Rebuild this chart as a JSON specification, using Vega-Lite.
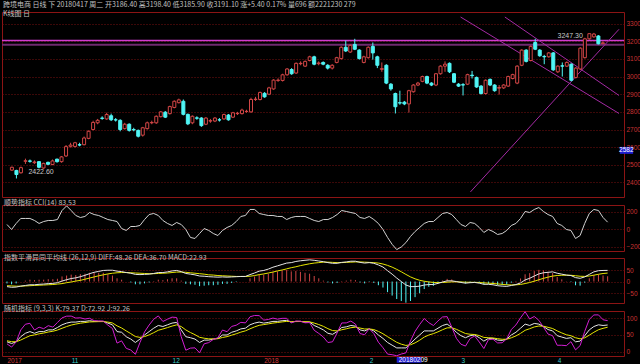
{
"$schema": "https://vega.github.io/schema/vega-lite/v6.json",
"background": "#000000",
"padding": 0,
"spacing": 0,
"config": {
 "view": {"stroke": "#8c1414", "strokeWidth": 1},
 "axis": {"domain": false, "ticks": false, "labelFont": "Liberation Sans", "labelFontSize": 6.5, "labelColor": "#c83232", "gridColor": "#781010", "gridDash": [1, 2], "gridWidth": 1, "format": "d", "labelPadding": 2},
 "title": {"font": "Noto Sans CJK SC", "fontSize": 7, "fontWeight": "normal", "color": "#c0c0c0", "anchor": "start", "subtitleFont": "Noto Sans CJK SC", "subtitleFontSize": 7, "subtitleColor": "#c0c0c0"},
 "text": {"font": "Liberation Sans", "fontSize": 7}
},
"datasets": {
 "hl": [{"p": 3204}, {"p": 3180}],
 "tl": [
  {"id": "up", "i": 101.64, "p": 2346.5}, {"id": "up", "i": 134.57, "p": 3268},
  {"id": "dn1", "i": 99.45, "p": 3337.5}, {"id": "dn1", "i": 134.57, "p": 2791},
  {"id": "dn2", "i": 109.27, "p": 3337.5}, {"id": "dn2", "i": 134.57, "p": 2893}
 ],
 "k": [
{"i":0,"d":"2017-10-12","o":2470,"h":2490,"l":2465,"c":2486,"cci":57,"dif":-22,"dea":-18,"m":-8,"k":30,"dd":33,"j":24},
{"i":1,"d":"2017-10-13","o":2468,"h":2472,"l":2422.6,"c":2445,"cci":0,"dif":-25,"dea":-19,"m":-12,"k":25,"dd":30.3,"j":14.4},
{"i":2,"d":"2017-10-16","o":2455,"h":2490,"l":2450,"c":2484,"cci":69,"dif":-24,"dea":-20,"m":-8,"k":30,"dd":30.2,"j":29.6},
{"i":3,"d":"2017-10-17","o":2520,"h":2535,"l":2505,"c":2523,"cci":126,"dif":-20,"dea":-20,"m":0,"k":45,"dd":35.1,"j":64.8},
{"i":4,"d":"2017-10-18","o":2522,"h":2530,"l":2512,"c":2520,"cci":126,"dif":-17,"dea":-19,"m":4,"k":55,"dd":41.7,"j":81.6},
{"i":5,"d":"2017-10-19","o":2512,"h":2525,"l":2505,"c":2516,"cci":126,"dif":-14,"dea":-18,"m":8,"k":60,"dd":47.8,"j":84.4},
{"i":6,"d":"2017-10-20","o":2518,"h":2520,"l":2480,"c":2486,"cci":103,"dif":-14,"dea":-17,"m":6,"k":55,"dd":50.2,"j":64.6},
{"i":7,"d":"2017-10-23","o":2482,"h":2512,"l":2478,"c":2508,"cci":69,"dif":-12,"dea":-16,"m":8,"k":60,"dd":53.5,"j":73},
{"i":8,"d":"2017-10-24","o":2514,"h":2518,"l":2498,"c":2503,"cci":91,"dif":-11,"dea":-15,"m":8,"k":60,"dd":55.7,"j":68.6},
{"i":9,"d":"2017-10-25","o":2502,"h":2530,"l":2498,"c":2522,"cci":103,"dif":-9,"dea":-14,"m":10,"k":65,"dd":58.8,"j":77.4},
{"i":10,"d":"2017-10-26","o":2532,"h":2535,"l":2512,"c":2518,"cci":103,"dif":-8,"dea":-13,"m":10,"k":65,"dd":60.9,"j":73.2},
{"i":11,"d":"2017-10-27","o":2518,"h":2550,"l":2512,"c":2545,"cci":114,"dif":-5,"dea":-11,"m":12,"k":72,"dd":64.6,"j":86.8},
{"i":12,"d":"2017-10-30","o":2550,"h":2612,"l":2545,"c":2603,"cci":217,"dif":2,"dea":-9,"m":22,"k":80,"dd":69.8,"j":100.4},
{"i":13,"d":"2017-10-31","o":2605,"h":2625,"l":2598,"c":2612,"cci":270,"dif":8,"dea":-5,"m":26,"k":85,"dd":74.8,"j":105.4},
{"i":14,"d":"2017-11-01","o":2604,"h":2630,"l":2598,"c":2625,"cci":217,"dif":13,"dea":-2,"m":30,"k":88,"dd":79.2,"j":105.6},
{"i":15,"d":"2017-11-02","o":2614,"h":2625,"l":2605,"c":2612,"cci":160,"dif":16,"dea":2,"m":28,"k":88,"dd":82.1,"j":99.8},
{"i":16,"d":"2017-11-03","o":2614,"h":2660,"l":2610,"c":2652,"cci":137,"dif":21,"dea":5,"m":32,"k":90,"dd":84.7,"j":100.6},
{"i":17,"d":"2017-11-06","o":2650,"h":2695,"l":2645,"c":2690,"cci":149,"dif":27,"dea":10,"m":34,"k":90,"dd":86.5,"j":97},
{"i":18,"d":"2017-11-07","o":2700,"h":2750,"l":2695,"c":2740,"cci":194,"dif":34,"dea":15,"m":38,"k":92,"dd":88.4,"j":99.2},
{"i":19,"d":"2017-11-08","o":2738,"h":2760,"l":2730,"c":2752,"cci":171,"dif":40,"dea":20,"m":40,"k":90,"dd":88.9,"j":92.2},
{"i":20,"d":"2017-11-09","o":2765,"h":2775,"l":2755,"c":2763,"cci":160,"dif":44,"dea":25,"m":38,"k":90,"dd":89.3,"j":91.4},
{"i":21,"d":"2017-11-10","o":2760,"h":2795,"l":2755,"c":2785,"cci":137,"dif":48,"dea":29,"m":38,"k":90,"dd":89.5,"j":91},
{"i":22,"d":"2017-11-13","o":2778,"h":2790,"l":2748,"c":2755,"cci":114,"dif":49,"dea":33,"m":32,"k":85,"dd":88,"j":79},
{"i":23,"d":"2017-11-14","o":2755,"h":2765,"l":2745,"c":2754,"cci":103,"dif":49,"dea":36,"m":26,"k":80,"dd":85.4,"j":69.2},
{"i":24,"d":"2017-11-15","o":2752,"h":2758,"l":2690,"c":2700,"cci":91,"dif":45,"dea":38,"m":14,"k":60,"dd":76.9,"j":26.2},
{"i":25,"d":"2017-11-16","o":2705,"h":2738,"l":2700,"c":2730,"cci":11,"dif":43,"dea":39,"m":8,"k":58,"dd":70.6,"j":32.8},
{"i":26,"d":"2017-11-17","o":2730,"h":2735,"l":2688,"c":2695,"cci":-11,"dif":39,"dea":39,"m":0,"k":45,"dd":62.1,"j":10.8},
{"i":27,"d":"2017-11-20","o":2700,"h":2710,"l":2690,"c":2698,"cci":34,"dif":36,"dea":38,"m":-4,"k":38,"dd":54.1,"j":5.8},
{"i":28,"d":"2017-11-21","o":2695,"h":2700,"l":2655,"c":2662,"cci":34,"dif":31,"dea":37,"m":-12,"k":28,"dd":45.4,"j":-6.8},
{"i":29,"d":"2017-11-22","o":2668,"h":2715,"l":2660,"c":2710,"cci":46,"dif":30,"dea":36,"m":-12,"k":38,"dd":43,"j":28},
{"i":30,"d":"2017-11-23","o":2705,"h":2745,"l":2700,"c":2738,"cci":114,"dif":31,"dea":35,"m":-8,"k":50,"dd":45.4,"j":59.2},
{"i":31,"d":"2017-11-24","o":2738,"h":2750,"l":2730,"c":2740,"cci":171,"dif":32,"dea":34,"m":-4,"k":60,"dd":50.3,"j":79.4},
{"i":32,"d":"2017-11-27","o":2738,"h":2780,"l":2732,"c":2775,"cci":183,"dif":35,"dea":34,"m":2,"k":70,"dd":56.8,"j":96.4},
{"i":33,"d":"2017-11-28","o":2773,"h":2805,"l":2768,"c":2800,"cci":160,"dif":39,"dea":35,"m":8,"k":78,"dd":63.9,"j":106.2},
{"i":34,"d":"2017-11-29","o":2798,"h":2805,"l":2765,"c":2770,"cci":103,"dif":39,"dea":36,"m":6,"k":75,"dd":67.6,"j":89.8},
{"i":35,"d":"2017-11-30","o":2790,"h":2835,"l":2785,"c":2830,"cci":69,"dif":42,"dea":37,"m":10,"k":80,"dd":71.8,"j":96.4},
{"i":36,"d":"2017-12-01","o":2825,"h":2865,"l":2820,"c":2860,"cci":46,"dif":46,"dea":39,"m":14,"k":85,"dd":76.2,"j":102.6},
{"i":37,"d":"2017-12-04","o":2852,"h":2875,"l":2848,"c":2868,"cci":80,"dif":48,"dea":41,"m":14,"k":87,"dd":79.8,"j":101.4},
{"i":38,"d":"2017-12-05","o":2860,"h":2870,"l":2780,"c":2786,"cci":57,"dif":43,"dea":41,"m":4,"k":65,"dd":74.9,"j":45.2},
{"i":39,"d":"2017-12-06","o":2786,"h":2790,"l":2725,"c":2732,"cci":0,"dif":35,"dea":40,"m":-10,"k":45,"dd":64.9,"j":5.2},
{"i":40,"d":"2017-12-07","o":2738,"h":2780,"l":2730,"c":2775,"cci":-91,"dif":32,"dea":38,"m":-12,"k":42,"dd":57.3,"j":11.4},
{"i":41,"d":"2017-12-08","o":2766,"h":2775,"l":2755,"c":2764,"cci":-103,"dif":29,"dea":36,"m":-14,"k":38,"dd":50.9,"j":12.2},
{"i":42,"d":"2017-12-11","o":2765,"h":2770,"l":2715,"c":2722,"cci":-46,"dif":24,"dea":34,"m":-20,"k":28,"dd":43.2,"j":-2.4},
{"i":43,"d":"2017-12-12","o":2730,"h":2770,"l":2725,"c":2765,"cci":11,"dif":23,"dea":32,"m":-18,"k":35,"dd":40.5,"j":24},
{"i":44,"d":"2017-12-13","o":2748,"h":2760,"l":2738,"c":2750,"cci":-11,"dif":21,"dea":29,"m":-16,"k":35,"dd":38.7,"j":27.6},
{"i":45,"d":"2017-12-14","o":2748,"h":2770,"l":2742,"c":2765,"cci":-46,"dif":20,"dea":28,"m":-16,"k":38,"dd":38.5,"j":37},
{"i":46,"d":"2017-12-15","o":2755,"h":2765,"l":2745,"c":2754,"cci":-69,"dif":19,"dea":26,"m":-14,"k":40,"dd":39,"j":42},
{"i":47,"d":"2017-12-18","o":2760,"h":2790,"l":2755,"c":2785,"cci":-11,"dif":20,"dea":25,"m":-10,"k":50,"dd":42.7,"j":64.6},
{"i":48,"d":"2017-12-19","o":2782,"h":2788,"l":2750,"c":2755,"cci":23,"dif":19,"dea":24,"m":-10,"k":50,"dd":45.2,"j":59.6},
{"i":49,"d":"2017-12-20","o":2770,"h":2800,"l":2765,"c":2795,"cci":46,"dif":20,"dea":23,"m":-6,"k":58,"dd":49.4,"j":75.2},
{"i":50,"d":"2017-12-21","o":2790,"h":2800,"l":2782,"c":2792,"cci":91,"dif":21,"dea":22,"m":-2,"k":62,"dd":53.6,"j":78.8},
{"i":51,"d":"2017-12-22","o":2790,"h":2818,"l":2785,"c":2810,"cci":149,"dif":22,"dea":22,"m":0,"k":68,"dd":58.4,"j":87.2},
{"i":52,"d":"2017-12-26","o":2802,"h":2812,"l":2795,"c":2803,"cci":160,"dif":22,"dea":22,"m":0,"k":70,"dd":62.2,"j":85.6},
{"i":53,"d":"2017-12-27","o":2800,"h":2880,"l":2795,"c":2870,"cci":229,"dif":30,"dea":23,"m":14,"k":80,"dd":68.2,"j":103.6},
{"i":54,"d":"2017-12-28","o":2870,"h":2885,"l":2862,"c":2872,"cci":229,"dif":37,"dea":26,"m":22,"k":85,"dd":73.8,"j":107.4},
{"i":55,"d":"2017-12-29","o":2870,"h":2915,"l":2865,"c":2910,"cci":183,"dif":45,"dea":30,"m":30,"k":88,"dd":78.5,"j":107},
{"i":56,"d":"2018-01-01","o":2905,"h":2912,"l":2880,"c":2885,"cci":171,"dif":48,"dea":33,"m":30,"k":85,"dd":80.6,"j":93.8},
{"i":57,"d":"2018-01-02","o":2900,"h":2942,"l":2895,"c":2936,"cci":160,"dif":54,"dea":37,"m":34,"k":87,"dd":82.7,"j":95.6},
{"i":58,"d":"2018-01-03","o":2930,"h":2985,"l":2925,"c":2980,"cci":160,"dif":62,"dea":41,"m":42,"k":90,"dd":85.1,"j":99.8},
{"i":59,"d":"2018-01-04","o":2978,"h":2990,"l":2970,"c":2980,"cci":149,"dif":68,"dea":46,"m":44,"k":90,"dd":86.7,"j":96.6},
{"i":60,"d":"2018-01-05","o":2978,"h":3016,"l":2972,"c":3010,"cci":149,"dif":74,"dea":50,"m":48,"k":92,"dd":88.5,"j":99},
{"i":61,"d":"2018-01-08","o":3010,"h":3048,"l":3005,"c":3043,"cci":114,"dif":80,"dea":55,"m":50,"k":93,"dd":90,"j":99},
{"i":62,"d":"2018-01-09","o":3040,"h":3048,"l":3010,"c":3016,"cci":137,"dif":82,"dea":60,"m":44,"k":88,"dd":89.3,"j":85.4},
{"i":63,"d":"2018-01-10","o":3020,"h":3080,"l":3015,"c":3075,"cci":149,"dif":87,"dea":64,"m":46,"k":90,"dd":89.5,"j":91},
{"i":64,"d":"2018-01-11","o":3073,"h":3086,"l":3064,"c":3075,"cci":149,"dif":90,"dea":69,"m":42,"k":90,"dd":89.7,"j":90.6},
{"i":65,"d":"2018-01-12","o":3059,"h":3091,"l":3054,"c":3086,"cci":149,"dif":92,"dea":73,"m":38,"k":88,"dd":89.1,"j":85.8},
{"i":66,"d":"2018-01-15","o":3091,"h":3118,"l":3086,"c":3112,"cci":126,"dif":94,"dea":77,"m":34,"k":88,"dd":88.7,"j":86.6},
{"i":67,"d":"2018-01-16","o":3112,"h":3118,"l":3064,"c":3070,"cci":103,"dif":92,"dea":80,"m":24,"k":78,"dd":85.1,"j":63.8},
{"i":68,"d":"2018-01-17","o":3073,"h":3086,"l":3064,"c":3077,"cci":91,"dif":89,"dea":82,"m":14,"k":72,"dd":80.7,"j":54.6},
{"i":69,"d":"2018-01-18","o":3080,"h":3086,"l":3064,"c":3070,"cci":114,"dif":86,"dea":84,"m":4,"k":65,"dd":75.5,"j":44},
{"i":70,"d":"2018-01-19","o":3064,"h":3070,"l":3040,"c":3048,"cci":114,"dif":82,"dea":84,"m":-4,"k":55,"dd":68.6,"j":27.8},
{"i":71,"d":"2018-01-22","o":3048,"h":3070,"l":3040,"c":3064,"cci":137,"dif":79,"dea":83,"m":-8,"k":52,"dd":63,"j":30},
{"i":72,"d":"2018-01-23","o":3080,"h":3112,"l":3075,"c":3107,"cci":171,"dif":79,"dea":82,"m":-6,"k":60,"dd":62,"j":56},
{"i":73,"d":"2018-01-24","o":3102,"h":3171,"l":3096,"c":3166,"cci":217,"dif":83,"dea":82,"m":2,"k":72,"dd":65.3,"j":85.4},
{"i":74,"d":"2018-01-25","o":3166,"h":3204,"l":3139,"c":3145,"cci":206,"dif":85,"dea":83,"m":4,"k":74,"dd":68.2,"j":85.6},
{"i":75,"d":"2018-01-26","o":3139,"h":3182,"l":3134,"c":3177,"cci":194,"dif":88,"dea":84,"m":8,"k":78,"dd":71.5,"j":91},
{"i":76,"d":"2018-01-29","o":3182,"h":3214,"l":3150,"c":3155,"cci":183,"dif":88,"dea":85,"m":6,"k":76,"dd":73,"j":82},
{"i":77,"d":"2018-01-30","o":3150,"h":3155,"l":3096,"c":3102,"cci":137,"dif":83,"dea":85,"m":-4,"k":65,"dd":70.4,"j":54.2},
{"i":78,"d":"2018-01-31","o":3080,"h":3118,"l":3075,"c":3112,"cci":126,"dif":80,"dea":84,"m":-8,"k":62,"dd":67.6,"j":50.8},
{"i":79,"d":"2018-02-01","o":3107,"h":3171,"l":3102,"c":3166,"cci":149,"dif":82,"dea":83,"m":-2,"k":68,"dd":67.8,"j":68.4},
{"i":80,"d":"2018-02-02","o":3171,"h":3193,"l":3096,"c":3134,"cci":114,"dif":79,"dea":82,"m":-6,"k":62,"dd":65.9,"j":54.2},
{"i":81,"d":"2018-02-05","o":3112,"h":3118,"l":3048,"c":3064,"cci":69,"dif":72,"dea":80,"m":-16,"k":50,"dd":60.6,"j":28.8},
{"i":82,"d":"2018-02-06","o":3041,"h":3080,"l":3027,"c":3045,"cci":0,"dif":63,"dea":76,"m":-26,"k":40,"dd":53.7,"j":12.6},
{"i":83,"d":"2018-02-07","o":3064,"h":3070,"l":2957,"c":2963,"cci":-91,"dif":47,"dea":70,"m":-46,"k":28,"dd":45.1,"j":-6.2},
{"i":84,"d":"2018-02-08","o":2957,"h":2963,"l":2920,"c":2930,"cci":-170,"dif":32,"dea":62.4,"m":-60.8,"k":20,"dd":36.8,"j":-8},
{"i":85,"d":"2018-02-09","o":2904,"h":2909,"l":2791,"c":2829,"cci":-230,"dif":15,"dea":52.9,"m":-75.8,"k":12,"dd":28.5,"j":-11},
{"i":86,"d":"2018-02-12","o":2852,"h":2920,"l":2840,"c":2850,"cci":-200,"dif":0,"dea":42.3,"m":-84.6,"k":12,"dd":23,"j":-6},
{"i":87,"d":"2018-02-13","o":2855,"h":2862,"l":2838,"c":2845,"cci":-150,"dif":-15,"dea":30.8,"m":-91.6,"k":12,"dd":19.3,"j":-2.6},
{"i":88,"d":"2018-02-14","o":2845,"h":2925,"l":2796,"c":2920,"cci":-80,"dif":-22,"dea":20.2,"m":-84.4,"k":25,"dd":21.2,"j":32.6},
{"i":89,"d":"2018-02-15","o":2914,"h":2957,"l":2909,"c":2952,"cci":-23,"dif":-22,"dea":11.8,"m":-67.6,"k":38,"dd":26.8,"j":60.4},
{"i":90,"d":"2018-02-16","o":2952,"h":2970,"l":2946,"c":2963,"cci":23,"dif":-20,"dea":5.4,"m":-50.8,"k":50,"dd":34.6,"j":80.8},
{"i":91,"d":"2018-02-19","o":2973,"h":3005,"l":2968,"c":3000,"cci":69,"dif":-15,"dea":1.3,"m":-32.6,"k":62,"dd":43.8,"j":98.4},
{"i":92,"d":"2018-02-20","o":3000,"h":3005,"l":2957,"c":2963,"cci":91,"dif":-13,"dea":-1.6,"m":-22.8,"k":62,"dd":49.9,"j":86.2},
{"i":93,"d":"2018-02-21","o":2963,"h":2968,"l":2946,"c":2952,"cci":91,"dif":-13,"dea":-3.9,"m":-18.2,"k":62,"dd":54,"j":78},
{"i":94,"d":"2018-02-22","o":2952,"h":3020,"l":2946,"c":3016,"cci":137,"dif":-8,"dea":-4.7,"m":-6.6,"k":70,"dd":59.3,"j":91.4},
{"i":95,"d":"2018-02-23","o":3016,"h":3064,"l":3011,"c":3059,"cci":183,"dif":-2,"dea":-4.2,"m":4.4,"k":78,"dd":65.5,"j":103},
{"i":96,"d":"2018-02-26","o":3059,"h":3086,"l":3027,"c":3070,"cci":194,"dif":3,"dea":-2.8,"m":11.6,"k":82,"dd":71,"j":104},
{"i":97,"d":"2018-02-27","o":3075,"h":3080,"l":3020,"c":3027,"cci":171,"dif":3,"dea":-1.6,"m":9.2,"k":72,"dd":71.3,"j":73.4},
{"i":98,"d":"2018-02-28","o":3016,"h":3020,"l":2963,"c":2968,"cci":114,"dif":0,"dea":-1.3,"m":2.6,"k":58,"dd":66.8,"j":40.4},
{"i":99,"d":"2018-03-01","o":2957,"h":2963,"l":2941,"c":2946,"cci":57,"dif":-4,"dea":-1.8,"m":-4.4,"k":48,"dd":60.5,"j":23},
{"i":100,"d":"2018-03-02","o":2954,"h":2963,"l":2893,"c":2952,"cci":34,"dif":-7,"dea":-2.8,"m":-8.4,"k":42,"dd":54.3,"j":17.4},
{"i":101,"d":"2018-03-05","o":2957,"h":3016,"l":2952,"c":3011,"cci":80,"dif":-5,"dea":-3.2,"m":-3.6,"k":48,"dd":52.2,"j":39.6},
{"i":102,"d":"2018-03-06","o":3008,"h":3032,"l":2989,"c":3005,"cci":69,"dif":-4,"dea":-3.4,"m":-1.2,"k":50,"dd":51.5,"j":47},
{"i":103,"d":"2018-03-07","o":2995,"h":3000,"l":2936,"c":2941,"cci":23,"dif":-7,"dea":-4.1,"m":-5.8,"k":42,"dd":48.3,"j":29.4},
{"i":104,"d":"2018-03-08","o":2946,"h":2952,"l":2898,"c":2904,"cci":-34,"dif":-12,"dea":-5.7,"m":-12.6,"k":32,"dd":42.9,"j":10.2},
{"i":105,"d":"2018-03-09","o":2904,"h":2984,"l":2898,"c":2979,"cci":0,"dif":-12,"dea":-7,"m":-10,"k":40,"dd":41.9,"j":36.2},
{"i":106,"d":"2018-03-12","o":2984,"h":2989,"l":2946,"c":2952,"cci":-23,"dif":-14,"dea":-8.4,"m":-11.2,"k":40,"dd":41.2,"j":37.6},
{"i":107,"d":"2018-03-13","o":2952,"h":2957,"l":2914,"c":2920,"cci":-57,"dif":-18,"dea":-10.3,"m":-15.4,"k":35,"dd":39.2,"j":26.6},
{"i":108,"d":"2018-03-14","o":2934,"h":2952,"l":2898,"c":2938,"cci":-46,"dif":-20,"dea":-12.2,"m":-15.6,"k":34,"dd":37.4,"j":27.2},
{"i":109,"d":"2018-03-15","o":2936,"h":2957,"l":2930,"c":2952,"cci":-11,"dif":-21,"dea":-14,"m":-14,"k":38,"dd":37.6,"j":38.8},
{"i":110,"d":"2018-03-16","o":2946,"h":3005,"l":2941,"c":3000,"cci":46,"dif":-17,"dea":-14.6,"m":-4.8,"k":50,"dd":41.8,"j":66.4},
{"i":111,"d":"2018-03-19","o":2989,"h":3016,"l":2984,"c":3011,"cci":69,"dif":-13,"dea":-14.3,"m":2.6,"k":58,"dd":47.2,"j":79.6},
{"i":112,"d":"2018-03-20","o":2963,"h":3064,"l":2957,"c":3059,"cci":126,"dif":-6,"dea":-12.6,"m":13.2,"k":70,"dd":54.8,"j":100.4},
{"i":113,"d":"2018-03-21","o":3064,"h":3155,"l":3059,"c":3150,"cci":206,"dif":7,"dea":-8.7,"m":31.4,"k":82,"dd":63.8,"j":118.4},
{"i":114,"d":"2018-03-22","o":3150,"h":3155,"l":3080,"c":3086,"cci":194,"dif":14,"dea":-4.2,"m":36.4,"k":78,"dd":68.5,"j":97},
{"i":115,"d":"2018-03-23","o":3091,"h":3177,"l":3086,"c":3171,"cci":229,"dif":24,"dea":1.4,"m":45.2,"k":84,"dd":73.7,"j":104.6},
{"i":116,"d":"2018-03-26","o":3193,"h":3214,"l":3150,"c":3155,"cci":251,"dif":33,"dea":7.7,"m":50.6,"k":82,"dd":76.4,"j":93.2},
{"i":117,"d":"2018-03-27","o":3150,"h":3155,"l":3112,"c":3118,"cci":206,"dif":38,"dea":13.8,"m":48.4,"k":75,"dd":75.9,"j":73.2},
{"i":118,"d":"2018-03-28","o":3114,"h":3123,"l":3070,"c":3112,"cci":171,"dif":40,"dea":19,"m":42,"k":66,"dd":72.6,"j":52.8},
{"i":119,"d":"2018-03-29","o":3112,"h":3139,"l":3107,"c":3134,"cci":149,"dif":42,"dea":23.6,"m":36.8,"k":62,"dd":69.1,"j":47.8},
{"i":120,"d":"2018-04-02","o":3134,"h":3139,"l":3032,"c":3038,"cci":69,"dif":36,"dea":26.1,"m":19.8,"k":48,"dd":62.1,"j":19.8},
{"i":121,"d":"2018-04-03","o":3027,"h":3064,"l":3020,"c":3059,"cci":46,"dif":32,"dea":27.3,"m":9.4,"k":44,"dd":56.1,"j":19.8},
{"i":122,"d":"2018-04-04","o":3061,"h":3080,"l":3000,"c":3059,"cci":0,"dif":28,"dea":27.4,"m":1.2,"k":40,"dd":50.7,"j":18.6},
{"i":123,"d":"2018-04-05","o":3059,"h":3086,"l":3054,"c":3080,"cci":-11,"dif":26,"dea":27.1,"m":-2.2,"k":42,"dd":47.8,"j":30.4},
{"i":124,"d":"2018-04-06","o":3070,"h":3075,"l":2973,"c":2979,"cci":-103,"dif":17,"dea":25.1,"m":-16.2,"k":30,"dd":41.9,"j":6.2},
{"i":125,"d":"2018-04-09","o":2995,"h":3054,"l":2989,"c":3048,"cci":-69,"dif":14,"dea":22.9,"m":-17.8,"k":32,"dd":38.6,"j":18.8},
{"i":126,"d":"2018-04-10","o":3043,"h":3166,"l":3038,"c":3161,"cci":69,"dif":20,"dea":22.3,"m":-4.6,"k":48,"dd":41.7,"j":60.6},
{"i":127,"d":"2018-04-11","o":3107,"h":3220,"l":3102,"c":3214,"cci":183,"dif":31,"dea":24,"m":14,"k":65,"dd":49.5,"j":96},
{"i":128,"d":"2018-04-12","o":3214,"h":3245,"l":3209,"c":3243,"cci":229,"dif":42,"dea":27.6,"m":28.8,"k":75,"dd":58,"j":109},
{"i":129,"d":"2018-04-13","o":3225,"h":3247.3,"l":3220,"c":3241,"cci":217,"dif":47,"dea":31.5,"m":31,"k":80,"dd":65.4,"j":109.2},
{"i":130,"d":"2018-04-16","o":3230,"h":3235,"l":3182,"c":3185.7,"cci":137,"dif":48,"dea":34.8,"m":26.4,"k":78,"dd":69.6,"j":94.8},
{"i":131,"d":"2018-04-17","o":3186.4,"h":3198.4,"l":3185.9,"c":3191.1,"cci":83.53,"dif":48.26,"dea":36.7,"m":22.93,"k":79.37,"dd":72.92,"j":92.26}
 ]
},
"vconcat": [
 {
  "width": 622, "height": 185,
  "title": {"text": "跨境电商 日线 下 20180417 周二 开3186.40 高3198.40 低3185.90 收3191.10 涨+5.40 0.17% 量696 额2221230 279", "subtitle": "K线图 日", "offset": -5, "subtitlePadding": 2, "dx": 2},
  "layer": [
   {"data": {"name": "hl"}, "mark": {"type": "rule"},
    "encoding": {
     "y": {"field": "p", "type": "quantitative", "scale": {"domain": [2346, 3337.5], "nice": false, "zero": false},
           "axis": {"orient": "right", "values": [2400, 2500, 2600, 2700, 2800, 2900, 3000, 3100, 3200, 3300], "grid": true, "title": null}},
     "color": {"condition": {"test": "datum.p > 3190", "value": "#d23cd2"}, "value": "#6e2a6e"},
     "strokeWidth": {"condition": {"test": "datum.p > 3190", "value": 1.5}, "value": 2}}},
   {"data": {"name": "tl"}, "mark": {"type": "line", "clip": true, "color": "#a42aa4", "strokeWidth": 1},
    "encoding": {
     "x": {"field": "i", "type": "quantitative", "scale": {"domain": [-1.09, 134.57], "nice": false, "zero": false}, "axis": null},
     "y": {"field": "p", "type": "quantitative", "scale": {"domain": [2346, 3337.5], "nice": false, "zero": false},
           "axis": {"orient": "right", "values": [2400, 2500, 2600, 2700, 2800, 2900, 3000, 3100, 3200, 3300], "grid": true, "title": null}},
     "detail": {"field": "id", "type": "nominal"}}},
   {"data": {"name": "k"}, "mark": {"type": "rule", "strokeWidth": 1},
    "encoding": {
     "x": {"field": "i", "type": "quantitative", "scale": {"domain": [-1.09, 134.57], "nice": false, "zero": false}, "axis": null},
     "y": {"field": "l", "type": "quantitative", "scale": {"domain": [2346, 3337.5], "nice": false, "zero": false},
           "axis": {"orient": "right", "values": [2400, 2500, 2600, 2700, 2800, 2900, 3000, 3100, 3200, 3300], "grid": true, "title": null}},
     "y2": {"field": "h"},
     "color": {"condition": {"test": "datum.c >= datum.o", "value": "#d24646"}, "value": "#50f5f5"}}},
   {"data": {"name": "k"}, "mark": {"type": "bar", "size": 3, "strokeWidth": 1},
    "encoding": {
     "x": {"field": "i", "type": "quantitative", "scale": {"domain": [-1.09, 134.57], "nice": false, "zero": false}, "axis": null},
     "y": {"field": "o", "type": "quantitative", "scale": {"domain": [2346, 3337.5], "nice": false, "zero": false},
           "axis": {"orient": "right", "values": [2400, 2500, 2600, 2700, 2800, 2900, 3000, 3100, 3200, 3300], "grid": true, "title": null}},
     "y2": {"field": "c"},
     "fill": {"condition": {"test": "datum.c >= datum.o", "value": "#000000"}, "value": "#50f5f5"},
     "stroke": {"condition": {"test": "datum.c >= datum.o", "value": "#d24646"}, "value": "#50f5f5"}}},
   {"data": {"values": [{"i": 1, "p": 2422.6, "t": "2422.60"}]},
    "mark": {"type": "text", "align": "left", "baseline": "middle", "dx": 12, "dy": -6, "color": "#c8c8c8"},
    "encoding": {
     "x": {"field": "i", "type": "quantitative", "scale": {"domain": [-1.09, 134.57], "nice": false, "zero": false}, "axis": null},
     "y": {"field": "p", "type": "quantitative", "scale": {"domain": [2346, 3337.5], "nice": false, "zero": false},
           "axis": {"orient": "right", "values": [2400, 2500, 2600, 2700, 2800, 2900, 3000, 3100, 3200, 3300], "grid": true, "title": null}},
     "text": {"field": "t"}}},
   {"data": {"values": [{"i": 129, "p": 3247.3, "t": "3247.30"}]},
    "mark": {"type": "text", "align": "right", "baseline": "middle", "dx": -11, "dy": 3, "color": "#c8c8c8"},
    "encoding": {
     "x": {"field": "i", "type": "quantitative", "scale": {"domain": [-1.09, 134.57], "nice": false, "zero": false}, "axis": null},
     "y": {"field": "p", "type": "quantitative", "scale": {"domain": [2346, 3337.5], "nice": false, "zero": false},
           "axis": {"orient": "right", "values": [2400, 2500, 2600, 2700, 2800, 2900, 3000, 3100, 3200, 3300], "grid": true, "title": null}},
     "text": {"field": "t"}}},
   {"data": {"values": [{"p": 2582, "t": "2582"}]},
    "mark": {"type": "bar", "size": 7, "color": "#1e1ed2"},
    "encoding": {
     "x": {"datum": 134.75, "type": "quantitative", "scale": {"domain": [-1.09, 134.57], "nice": false, "zero": false}, "axis": null},
     "x2": {"datum": 137.7},
     "y": {"field": "p", "type": "quantitative", "scale": {"domain": [2346, 3337.5], "nice": false, "zero": false},
           "axis": {"orient": "right", "values": [2400, 2500, 2600, 2700, 2800, 2900, 3000, 3100, 3200, 3300], "grid": true, "title": null}}}},
   {"data": {"values": [{"p": 2582, "t": "2582"}]},
    "mark": {"type": "text", "align": "center", "baseline": "middle", "color": "#ffffff", "fontSize": 6.5},
    "encoding": {
     "x": {"datum": 136.2, "type": "quantitative", "scale": {"domain": [-1.09, 134.57], "nice": false, "zero": false}, "axis": null},
     "y": {"field": "p", "type": "quantitative", "scale": {"domain": [2346, 3337.5], "nice": false, "zero": false},
           "axis": {"orient": "right", "values": [2400, 2500, 2600, 2700, 2800, 2900, 3000, 3100, 3200, 3300], "grid": true, "title": null}},
     "text": {"field": "t"}}}
  ]
 },
 {
  "width": 622, "height": 46,
  "title": {"text": "顺势指标 CCI(14) 83.53", "offset": -2, "dx": 2},
  "data": {"name": "k"},
  "mark": {"type": "line", "color": "#d2d2d2", "strokeWidth": 1},
  "encoding": {
   "x": {"field": "i", "type": "quantitative", "scale": {"domain": [-1.09, 134.57], "nice": false, "zero": false}, "axis": null},
   "y": {"field": "cci", "type": "quantitative", "scale": {"domain": [-246, 280], "nice": false, "zero": false},
         "axis": {"orient": "right", "values": [-200, 0, 200], "grid": true, "title": null}}}
 },
 {
  "width": 622, "height": 45,
  "title": {"text": "指数平滑异同平均线 (26,12,9) DIFF:48.26 DEA:36.70 MACD:22.93", "offset": -3, "dx": 2},
  "data": {"name": "k"},
  "encoding": {
   "x": {"field": "i", "type": "quantitative", "scale": {"domain": [-1.09, 134.57], "nice": false, "zero": false}, "axis": null}
  },
  "layer": [
   {"mark": {"type": "rule", "strokeWidth": 1},
    "encoding": {
     "y": {"field": "m", "type": "quantitative", "scale": {"domain": [-93, 102], "nice": false, "zero": false},
           "axis": {"orient": "right", "values": [-50, 0, 50], "grid": true, "title": null}},
     "y2": {"datum": 0},
     "color": {"condition": {"test": "datum.m >= 0", "value": "#d24646"}, "value": "#50f5f5"}}},
   {"mark": {"type": "line", "color": "#e6e600", "strokeWidth": 1},
    "encoding": {
     "y": {"field": "dea", "type": "quantitative", "scale": {"domain": [-93, 102], "nice": false, "zero": false},
           "axis": {"orient": "right", "values": [-50, 0, 50], "grid": true, "title": null}}}},
   {"mark": {"type": "line", "color": "#e6e6e6", "strokeWidth": 1},
    "encoding": {
     "y": {"field": "dif", "type": "quantitative", "scale": {"domain": [-93, 102], "nice": false, "zero": false},
           "axis": {"orient": "right", "values": [-50, 0, 50], "grid": true, "title": null}}}}
  ]
 },
 {
  "width": 622, "height": 45,
  "title": {"text": "随机指标 (9,3,3) K:79.37 D:72.92 J:92.26", "offset": -1, "dx": 2},
  "encoding": {
   "x": {"field": "i", "type": "quantitative", "scale": {"domain": [-1.09, 134.57], "nice": false, "zero": false},
         "axis": {"orient": "bottom", "values": [0, 14, 36, 56, 79, 99, 120],
                  "labelExpr": "datum.value == 0 ? '2017' : datum.value == 14 ? '11' : datum.value == 36 ? '12' : datum.value == 56 ? '2018' : datum.value == 79 ? '2' : datum.value == 99 ? '3' : '4'",
                  "labelAlign": "left", "labelPadding": 1, "labelFlush": false, "labelOverlap": false, "grid": false, "title": null,
                  "labelColor": {"condition": {"test": "datum.value == 0 || datum.value == 56", "value": "#d23c3c"}, "value": "#3cc8c8"}}}
  },
  "layer": [
   {"data": {"name": "k"}, "mark": {"type": "line", "color": "#e6e6e6", "strokeWidth": 1},
    "encoding": {
     "y": {"field": "k", "type": "quantitative", "scale": {"domain": [-11.8, 120.6], "nice": false, "zero": false},
           "axis": {"orient": "right", "values": [0, 50, 100], "grid": true, "title": null}}}},
   {"data": {"name": "k"}, "mark": {"type": "line", "color": "#e6e600", "strokeWidth": 1},
    "encoding": {
     "y": {"field": "dd", "type": "quantitative", "scale": {"domain": [-11.8, 120.6], "nice": false, "zero": false},
           "axis": {"orient": "right", "values": [0, 50, 100], "grid": true, "title": null}}}},
   {"data": {"name": "k"}, "mark": {"type": "line", "color": "#d21ed2", "strokeWidth": 1, "clip": true},
    "encoding": {
     "y": {"field": "j", "type": "quantitative", "scale": {"domain": [-11.8, 120.6], "nice": false, "zero": false},
           "axis": {"orient": "right", "values": [0, 50, 100], "grid": true, "title": null}}}},
   {"data": {"values": [{"i": 85, "t": "20180209"}]},
    "mark": {"type": "bar", "color": "#1e1ed2"},
    "encoding": {
     "x2": {"datum": 90.4},
     "y": {"datum": -14.7, "type": "quantitative", "scale": {"domain": [-11.8, 120.6], "nice": false, "zero": false},
           "axis": {"orient": "right", "values": [0, 50, 100], "grid": true, "title": null}},
     "y2": {"datum": -32}}},
   {"data": {"values": [{"i": 85, "t": "20180209"}]},
    "mark": {"type": "text", "align": "left", "baseline": "middle", "dx": 2, "color": "#ffffff", "fontSize": 6.5},
    "encoding": {
     "y": {"datum": -23.4, "type": "quantitative", "scale": {"domain": [-11.8, 120.6], "nice": false, "zero": false},
           "axis": {"orient": "right", "values": [0, 50, 100], "grid": true, "title": null}},
     "text": {"field": "t"}}}
  ]
 }
]
}
